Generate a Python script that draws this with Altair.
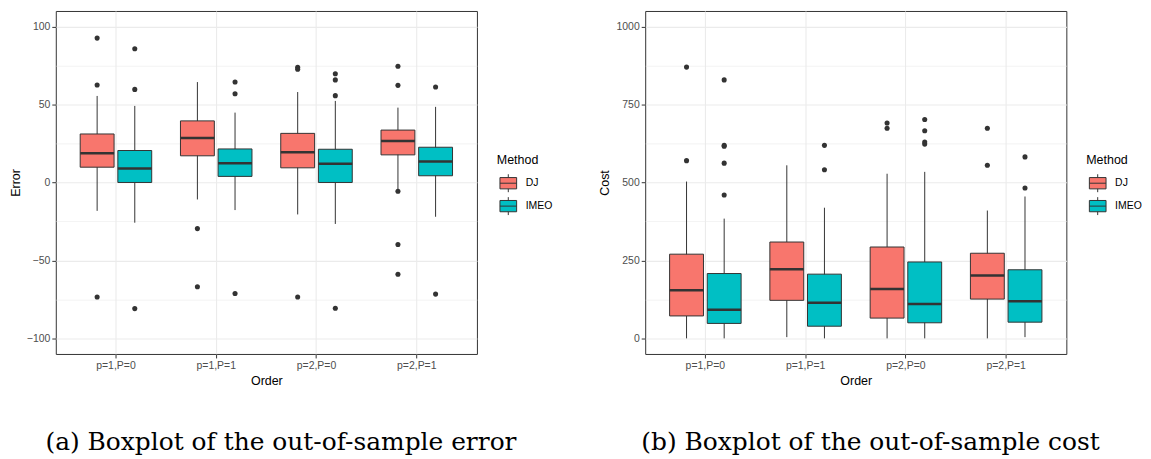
import altair as alt
import pandas as pd

CATS = ["p=1,P=0", "p=1,P=1", "p=2,P=0", "p=2,P=1"]
METHODS = ["DJ", "IMEO"]
COLORS = ["#F8766D", "#00BFC4"]

# order of groups: for each category, DJ then IMEO
ERR_LOWER = [-18.2, -25.8, -10.9, -17.7, -20.5, -26.6, -4.5, -22.0]
ERR_Q1 = [9.8, 0.0, 17.1, 3.9, 9.4, 0.0, 17.7, 4.3]
ERR_MED = [18.8, 9.0, 28.5, 12.4, 19.4, 12.0, 26.6, 13.5]
ERR_Q3 = [31.1, 20.5, 39.5, 21.5, 31.5, 21.3, 33.6, 22.6]
ERR_UPPER = [55.5, 49.1, 64.4, 44.8, 58.0, 52.3, 48.0, 48.5]
ERR_OUT = [
    [92.6, 62.5, -73.5],
    [85.8, 59.7, -80.9],
    [-29.6, -66.9],
    [64.4, 56.9, -71.2],
    [73.9, 72.6, -73.5],
    [69.7, 65.8, 55.7, -80.7],
    [74.5, 62.3, -5.6, -39.8, -58.9],
    [61.2, -71.6],
]

COST_LOWER = [0, 0, 4, 0, 0, 0, 0, 4]
COST_Q1 = [72, 48, 122, 39, 65, 50, 126, 52]
COST_MED = [154, 92, 222, 114, 158, 110, 202, 119]
COST_Q3 = [270, 208, 309, 206, 293, 245, 273, 220]
COST_UPPER = [503, 384, 555, 419, 528, 534, 410, 455]
COST_OUT = [
    [870, 570],
    [829, 619, 616, 562, 460],
    [],
    [619, 541],
    [691, 674],
    [702, 666, 630, 623],
    [674, 555],
    [582, 482],
]

ERR_TICKS = [-100, -75, -50, -25, 0, 25, 50, 75, 100]
COST_TICKS = [0, 125, 250, 375, 500, 625, 750, 875, 1000]

CAPTIONS = ["(a) Boxplot of the out-of-sample error",
            "(b) Boxplot of the out-of-sample cost"]

FONT = "Liberation Sans"
PLOT_W = 423
PLOT_H = 344.5
SYMBOL = "M-0.93,-0.63H0.93V0.63H-0.93Z M0,-0.63V-1 M0,0.63V1 M-0.93,0H0.93"


def make_panel(lower, q1, med, q3, upper, outs, ytitle, domain, ticks, major, caption):
    groups = [(c, m) for c in CATS for m in METHODS]
    stats = pd.DataFrame({
        "Order": [g[0] for g in groups],
        "Method": [g[1] for g in groups],
        "lower": lower, "q1": q1, "med": med, "q3": q3, "upper": upper,
    })
    orows = []
    for g, vals in zip(groups, outs):
        for v in vals:
            orows.append({"Order": g[0], "Method": g[1], "value": v})
    outdf = pd.DataFrame(orows, columns=["Order", "Method", "value"])

    minor_test = "datum.value % " + str(major) + " != 0"
    label_expr = ("datum.value % " + str(major) +
                  " == 0 ? replace(format(datum.value, 'd'), '-', '\u2212') : ''")
    yaxis = alt.Axis(
        values=ticks, labelExpr=label_expr, grid=True, gridColor="#EBEBEB",
        gridWidth={"condition": {"test": minor_test, "value": 0.6}, "value": 1.1},
        tickOpacity={"condition": {"test": minor_test, "value": 0}, "value": 1},
        tickColor="#333333", tickSize=4, tickWidth=1, labelPadding=2,
        labelColor="#4D4D4D", labelFont=FONT, labelFontSize=10.5,
        titleFont=FONT, titleFontSize=12.5, titleFontWeight="normal", titleColor="black",
        titlePadding=4, domain=False,
    )
    yscale = alt.Scale(domain=domain, nice=False, zero=False)

    def Y(field):
        return alt.Y(field, type="quantitative", scale=yscale, axis=yaxis, title=ytitle)

    X = alt.X("Order:N", sort=CATS, title="Order",
              scale=alt.Scale(paddingInner=0, paddingOuter=0.1),
              axis=alt.Axis(labelAngle=0, grid=True, gridColor="#EBEBEB", gridWidth=1.1,
                            bandPosition=0.5, tickColor="#333333", tickSize=4, tickWidth=1,
                            labelPadding=3, labelColor="#4D4D4D", labelFont=FONT,
                            labelFontSize=10.5, titleFont=FONT, titleFontSize=12.5,
                            titleFontWeight="normal", titleColor="black", titlePadding=3,
                            domain=False))
    XO = alt.XOffset("Method:N", sort=METHODS,
                     scale=alt.Scale(paddingInner=0.1, paddingOuter=0.382))

    base = alt.Chart(stats)
    whisk = base.mark_rule(color="#333333", strokeWidth=1).encode(
        x=X, xOffset=XO, y=Y("lower"), y2="upper")
    box = base.mark_bar(stroke="#333333", strokeWidth=1, opacity=1).encode(
        x=X, xOffset=XO, y=Y("q1"), y2="q3",
        fill=alt.Fill("Method:N", sort=METHODS,
                      scale=alt.Scale(domain=METHODS, range=COLORS),
                      legend=alt.Legend(
                          title="Method", orient="none", legendX=443, legendY=144,
                          symbolType=SYMBOL, symbolSize=324, symbolStrokeColor="#333333",
                          symbolStrokeWidth=1, symbolOffset=2, padding=0,
                          titleFont=FONT, titleFontSize=12.5, titleFontWeight="normal",
                          titleColor="black", titlePadding=7,
                          labelFont=FONT, labelFontSize=10.5, labelColor="black",
                          labelOffset=8, rowPadding=0)))
    medt = base.mark_tick(color="#333333", thickness=2.5, size=34, opacity=1).encode(
        x=X, xOffset=XO, y=Y("med"))
    pts = alt.Chart(outdf).mark_circle(color="#333333", size=26, opacity=1).encode(
        x=X, xOffset=XO, y=Y("value"))

    return alt.layer(whisk, box, medt, pts).properties(
        width=PLOT_W, height=PLOT_H,
        title=alt.TitleParams(caption, orient="bottom", anchor="middle", frame="bounds",
                              font="DejaVu Serif", fontSize=25, fontWeight="normal",
                              color="black", offset=43),
    )


left = make_panel(ERR_LOWER, ERR_Q1, ERR_MED, ERR_Q3, ERR_UPPER, ERR_OUT,
                  "Error", [-110, 110], ERR_TICKS, 50, CAPTIONS[0])
right = make_panel(COST_LOWER, COST_Q1, COST_MED, COST_Q3, COST_UPPER, COST_OUT,
                   "Cost", [-50, 1050], COST_TICKS, 250, CAPTIONS[1])

chart = alt.hconcat(left, right, spacing=45).resolve_scale(
    fill="independent").resolve_legend(fill="independent").properties(
    padding={"left": 0, "top": 1, "right": 0, "bottom": 0}
).configure(background="white").configure_view(stroke="#333333", strokeWidth=1)

chart.save("out.html", embed_options={"renderer": "svg", "actions": False})
